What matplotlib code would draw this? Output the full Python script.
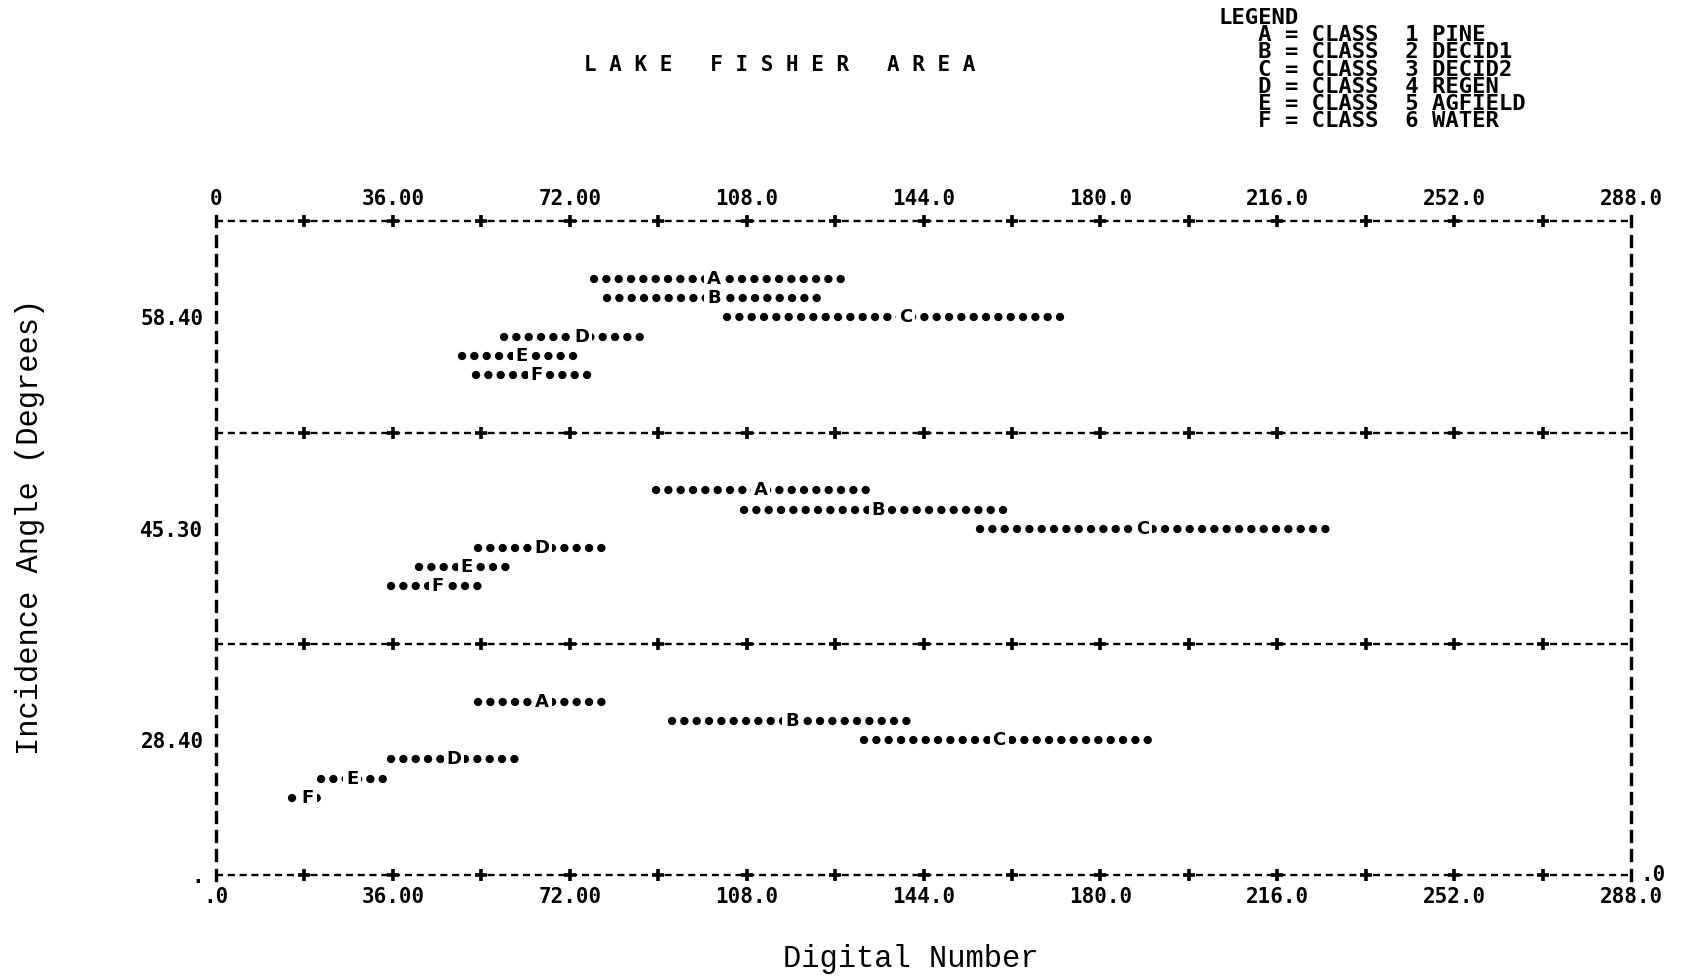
import matplotlib.pyplot as plt

plt.rcParams['font.family'] = ['DejaVu Sans Mono', 'DejaVu Sans']

# classes shown in every angle group
classes = ['A', 'B', 'C', 'D', 'E', 'F']
class_names = ['PINE', 'DECID1', 'DECID2', 'REGEN', 'AGFIELD', 'WATER']
angle_labels = ['58.40', '45.30', '28.40']

# digital number range for each class: low end, letter position, high end
lo_58 = [76.9, 79.6, 104.0, 58.7, 50.1, 53.0]
mid_58 = [101.3, 101.3, 140.3, 74.5, 62.2, 65.3]
hi_58 = [129.0, 123.1, 174.1, 87.1, 75.0, 77.8]

lo_45 = [89.5, 107.5, 155.4, 53.4, 41.3, 35.6]
mid_45 = [110.8, 134.8, 188.6, 66.4, 51.0, 45.1]
hi_45 = [133.0, 162.7, 226.0, 79.1, 60.9, 54.7]

lo_28 = [53.4, 92.8, 131.9, 35.6, 21.3, 15.4]
mid_28 = [66.4, 117.2, 159.4, 48.4, 27.7, 18.7]
hi_28 = [79.4, 142.4, 189.9, 61.1, 34.3, 22.0]

x_ticks = [0, 36, 72, 108, 144, 180, 216, 252, 288]
top_labels = ['0', '36.00', '72.00', '108.0', '144.0', '180.0', '216.0', '252.0', '288.0']
bottom_labels = ['.0', '36.00', '72.00', '108.0', '144.0', '180.0', '216.0', '252.0', '288.0']

groups = [(lo_58, mid_58, hi_58), (lo_45, mid_45, hi_45), (lo_28, mid_28, hi_28)]

fig = plt.figure(figsize=(16.93, 9.77), dpi=100)
ax = fig.add_axes([0.1276, 0.1047, 0.8358, 0.6687])
ax.set_xlim(0, 288)
ax.set_ylim(34, 0)
for s in ax.spines.values():
    s.set_visible(False)

# printer style frame: dashed rows with + marks, columns of I
band_top = [0, 11, 22]
frame_rows = band_top + [34]
plus_x = list(range(18, 288, 18))
for r in frame_rows:
    ax.plot([0, 288], [r, r], color='black', lw=1.7, dashes=(3, 2.0), clip_on=False)
    ax.plot(plus_x, [r] * len(plus_x), ls='none', marker='+', ms=9, mew=2.6,
            color='black', clip_on=False)
rows = list(range(0, 35))
for xx in [0, 288]:
    ax.plot([xx] * len(rows), rows, ls='none', marker=r'$\mathrm{I}$', ms=9,
            color='black', clip_on=False)

# the class ranges as rows of dots with the class letter
for b, (lo, mid, hi) in enumerate(groups):
    for i, c in enumerate(classes):
        row = band_top[b] + 3 + i
        ax.plot([lo[i], hi[i]], [row, row], color='black', lw=6.0,
                dashes=(0.01, 1.47), dash_capstyle='round')
        ax.text(mid[i], row, c, ha='center', va='center', fontsize=13,
                family='DejaVu Sans', fontweight='bold',
                bbox=dict(facecolor='white', edgecolor='none', pad=2.0))

# axis labels
ax.set_yticks([b + 5 for b in band_top] + [34], angle_labels + ['.'])
ax.set_xticks(x_ticks, bottom_labels)
ax.tick_params(length=0, labelsize=15, pad=9)
for t in ax.get_xticklabels() + ax.get_yticklabels():
    t.set_fontweight('bold')
sec = ax.secondary_xaxis('top')
sec.set_xticks(x_ticks, top_labels)
sec.tick_params(length=0, labelsize=15, pad=9)
for t in sec.get_xticklabels():
    t.set_fontweight('bold')
for s in sec.spines.values():
    s.set_visible(False)
ax.annotate('.0', (288, 34), xytext=(7, 0), textcoords='offset points',
            va='center', ha='left', fontsize=15, fontweight='bold')

fig.text(0.5377, 0.0184, 'Digital Number', ha='center', va='center',
         family='Liberation Mono', fontsize=22)
fig.text(0.0178, 0.4606, 'Incidence Angle (Degrees)', ha='center', va='center',
         rotation=90, family='Liberation Mono', fontsize=22)
fig.text(0.4606, 0.9335, 'L A K E   F I S H E R   A R E A', ha='center',
         va='center', fontsize=15, fontweight='bold')

legend_lines = ['LEGEND'] + ['   %s = CLASS  %d %s' % (c, i + 1, n)
                             for i, (c, n) in enumerate(zip(classes, class_names))]
fig.text(0.7196, 0.992, '\n'.join(legend_lines), ha='left', va='top',
         fontsize=16, fontweight='bold', linespacing=0.83)

fig.savefig('out.png', dpi=100, facecolor='white')
